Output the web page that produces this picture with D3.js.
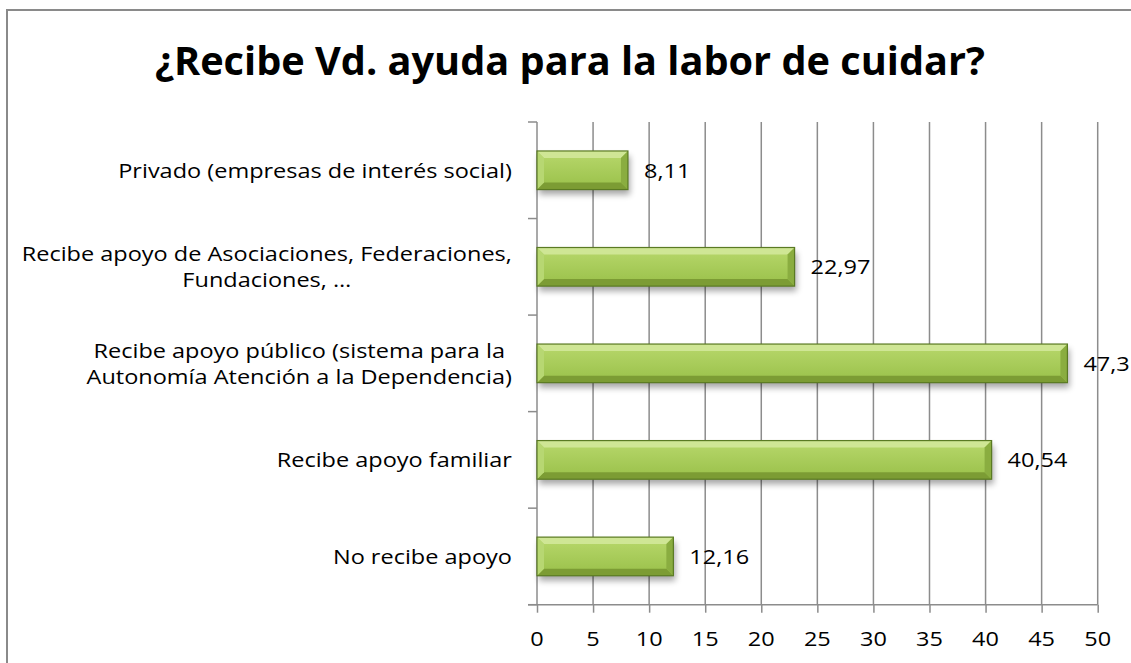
<!DOCTYPE html>
<html>
<head>
<meta charset="utf-8">
<script src="https://cdn.jsdelivr.net/npm/d3@7"></script>
<style>
  html, body { margin: 0; padding: 0; background: #fff; }
  svg { display: block; }
  text { font-family: "Open Sans", "DejaVu Sans", sans-serif; fill: #000; }
</style>
</head>
<body>
<svg id="chart" width="1131" height="663"></svg>
<script>
// ---- data ----
const title = "¿Recibe Vd. ayuda para la labor de cuidar?";
const categories = [
  "No recibe apoyo",
  "Recibe apoyo familiar",
  "Recibe apoyo público (sistema para la\nAutonomía Atención a la Dependencia)",
  "Recibe apoyo de Asociaciones, Federaciones,\nFundaciones, …",
  "Privado (empresas de interés social)"
];
const values = [12.16, 40.54, 47.3, 22.97, 8.11];
const xTicks = [0, 5, 10, 15, 20, 25, 30, 35, 40, 45, 50];

// ---- layout ----
const plot = { left: 537, right: 1097.7, top: 122, bottom: 604.7 };
const squash = 0.86;
const svg = d3.select("#chart");
const defs = svg.append("defs");

const grad = defs.append("linearGradient").attr("id", "face")
  .attr("x1", 0).attr("y1", 0).attr("x2", 0).attr("y2", 1);
grad.append("stop").attr("offset", "0%").attr("stop-color", "#b8d86c");
grad.append("stop").attr("offset", "100%").attr("stop-color", "#99c049");

const blur = defs.append("filter").attr("id", "shadow")
  .attr("x", "-10%").attr("y", "-50%").attr("width", "120%").attr("height", "200%");
blur.append("feGaussianBlur").attr("stdDeviation", 3);

// chart frame
svg.append("rect").attr("x", 7).attr("y", 10).attr("width", 1300).attr("height", 800)
  .attr("fill", "#fff").attr("stroke", "#8a8a8a").attr("stroke-width", 2);

// title
const titleText = svg.append("text")
  .attr("x", 570).attr("y", 75)
  .attr("text-anchor", "middle")
  .style("font-weight", "bold")
  .style("font-size", "40px")
  .text(title);
{
  const w = titleText.node().getComputedTextLength();
  titleText.style("font-size", (40 * 830 / w) + "px");
}

// helper: text squashed vertically around its anchor point
function squashedText(sel, px, py, str, anchor) {
  return sel.append("text")
    .attr("transform", `translate(${px},${py}) scale(1,${squash})`)
    .attr("text-anchor", anchor || "start")
    .attr("dy", "0.36em")
    .style("font-size", "23.5px")
    .text(str);
}

// scales
const x = d3.scaleLinear().domain([0, 50]).range([plot.left, plot.right]);
const order = categories.slice().reverse(); // top -> bottom
const y = d3.scaleBand().domain(order).range([plot.top, plot.bottom]).paddingInner(0.6).paddingOuter(0.3);
const yb = d3.scaleBand().domain(order).range([plot.top, plot.bottom]);

// gridlines
svg.append("g").selectAll("line").data(xTicks.slice(1)).join("line")
  .attr("x1", d => x(d)).attr("x2", d => x(d))
  .attr("y1", plot.top).attr("y2", plot.bottom)
  .attr("stroke", "#8c8c8c").attr("stroke-width", 1.5);

// x axis
const xAxis = svg.append("g").attr("transform", `translate(0,${plot.bottom})`)
  .call(d3.axisBottom(x).tickValues(xTicks).tickSize(8).tickFormat(""));
xAxis.select(".domain").attr("stroke", "#8c8c8c").attr("stroke-width", 1.5)
  .attr("d", `M${plot.left - 9},0H${plot.right}`);
xAxis.selectAll(".tick line").attr("stroke", "#8c8c8c").attr("stroke-width", 1.5);
const tickG = svg.append("g");
xTicks.forEach(t => squashedText(tickG, x(t), 639, String(t), "middle"));

// y axis line + category ticks
svg.append("line").attr("x1", plot.left).attr("x2", plot.left)
  .attr("y1", plot.top).attr("y2", plot.bottom)
  .attr("stroke", "#8c8c8c").attr("stroke-width", 1.5);
const bounds = order.map(c => yb(c)).concat([plot.bottom]);
svg.append("g").selectAll("line").data(bounds).join("line")
  .attr("x1", plot.left - 9).attr("x2", plot.left)
  .attr("y1", d => d).attr("y2", d => d)
  .attr("stroke", "#8c8c8c").attr("stroke-width", 1.5);

// category labels (centered lines, right-aligned block)
const labelRight = 512, lineH = 26;
order.forEach(c => {
  const lines = c.split("\n");
  const g = svg.append("g");
  const cy = yb(c) + yb.bandwidth() / 2;
  const probe = lines.map(ln => {
    const t = g.append("text").style("font-size", "23.5px").text(ln);
    const w = t.node().getComputedTextLength();
    t.remove();
    return w;
  });
  const maxW = d3.max(probe);
  lines.forEach((ln, i) =>
    squashedText(g, labelRight - maxW / 2, cy + (i - (lines.length - 1) / 2) * lineH, ln, "middle"));
});

// bars
const bh = y.bandwidth();
const bars = svg.append("g");
const valG = svg.append("g");
categories.forEach((c, i) => {
  const v = values[i];
  const x0 = x(0), x1 = x(v), y0 = y(c), y1 = y0 + bh, b = 7;
  const g = bars.append("g");
  g.append("rect").attr("x", x0 + 2).attr("y", y0 + 5).attr("width", x1 - x0).attr("height", bh)
    .attr("fill", "#000").attr("opacity", 0.35).attr("filter", "url(#shadow)");
  g.append("rect").attr("x", x0).attr("y", y0).attr("width", x1 - x0).attr("height", bh)
    .attr("fill", "url(#face)");
  const poly = (pts, fill) => g.append("polygon")
    .attr("points", pts.map(p => p.join(",")).join(" ")).attr("fill", fill);
  poly([[x0, y0], [x1, y0], [x1 - b, y0 + b], [x0 + b, y0 + b]], "#cfe695");
  poly([[x0, y1], [x1, y1], [x1 - b, y1 - b], [x0 + b, y1 - b]], "#7c9c34");
  poly([[x0, y0], [x0 + b, y0 + b], [x0 + b, y1 - b], [x0, y1]], "#b7d772");
  poly([[x1, y0], [x1 - b, y0 + b], [x1 - b, y1 - b], [x1, y1]], "#8aad40");
  g.append("rect").attr("x", x0).attr("y", y0).attr("width", x1 - x0).attr("height", bh)
    .attr("fill", "none").attr("stroke", "#5a7a23").attr("stroke-width", 1.2);
  squashedText(valG, x1 + 16, y0 + bh / 2, String(v).replace(".", ","), "start");
});
</script>
</body>
</html>
